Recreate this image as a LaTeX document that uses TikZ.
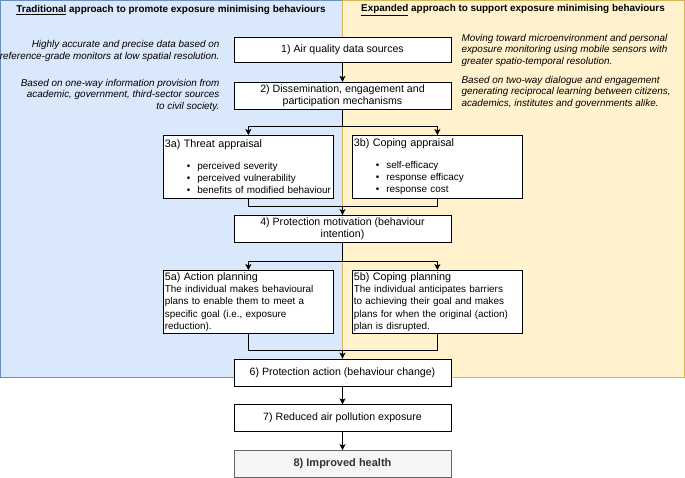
\documentclass[tikz,border=0pt]{standalone}
\usepackage{fontspec}
\setmainfont{Liberation Sans}
\usetikzlibrary{positioning}
\usetikzlibrary{arrows.meta}
\definecolor{tradfill}{HTML}{DAE8FC}
\definecolor{tradline}{HTML}{6C8EBF}
\definecolor{expfill}{HTML}{FFF2CC}
\definecolor{expline}{HTML}{D6B656}
\definecolor{healthfill}{HTML}{F5F5F5}
\definecolor{healthline}{HTML}{666666}
\definecolor{healthtext}{HTML}{333333}
\tikzset{
    flow chart/.style={
            x=1pt,y=-1pt,node distance=18pt,
            font=\fontsize{10.6}{12.5}\selectfont,
            arrow/.style={-{Stealth[length=6pt,width=6pt,inset=1.5pt]},line width=0.75pt},
            link/.style={line width=0.75pt},
            stage/.style={draw,line width=0.75pt,fill=white,minimum width=217pt,
                    minimum height=25pt,align=center,inner sep=2pt},
            appraisal/.style={draw,line width=0.75pt,fill=white,text width=167pt,
                    minimum height=63pt,align=left,inner sep=1.5pt,anchor=north west,
                    font=\fontsize{9.9}{12.3}\selectfont},
            note/.style={font=\fontsize{9.9}{11.5}\selectfont\itshape},
            heading/.style={font=\fontsize{9.9}{12}\selectfont\bfseries}
        }
    }
\newcommand{\itm}[1]{\mbox{\hspace*{22pt}\textbullet\hspace{7pt}#1}}
\newcommand{\boxtitle}[1]{{\fontsize{10.8}{12.5}\selectfont #1}}

\begin{document}
\begin{tikzpicture}[flow chart]
                \useasboundingbox (0,0) rectangle (685,477);
                % the two approaches
                \draw[tradline,fill=tradfill] (0.5,0.5) rectangle (342.5,377);
                \draw[expline,fill=expfill] (342.5,0.5) rectangle (684.5,377);
                \node[heading] (trad) at (171,10) {\underline{Traditional} approach to promote exposure minimising behaviours};
                \node[heading] (expd) at (513,10) {\underline{Expanded} approach to support exposure minimising behaviours};
                \node[note,anchor=east,align=right] (tradA) at (223,51) {Highly accurate and precise data based on\\reference-grade monitors at low spatial resolution.};
                \node[note,anchor=east,align=right] (tradB) at (223,95) {Based on one-way information provision from\\academic, government, third-sector sources\\to civil society.};
                \node[note,anchor=west,align=left] (expdA) at (458,50) {Moving toward microenvironment and personal\\exposure monitoring using mobile sensors with\\greater spatio-temporal resolution.};
                \node[note,anchor=west,align=left] (expdB) at (458,92) {Based on two-way dialogue and engagement\\generating reciprocal learning between citizens,\\academics, institutes and governments alike.};
                % the steps
                \node[stage] (data) at (342.5,50) {1) Air quality data sources};
                \node[stage,minimum height=27pt] (dissem) [below=19pt of data] {2) Dissemination, engagement and\\participation mechanisms};
                \node[appraisal] (threat) at (163,135) {\boxtitle{3a) Threat appraisal}\\[9pt]\itm{perceived severity}\\\itm{perceived vulnerability}\\\itm{benefits of modified behaviour}};
                \node[appraisal] (coping) at (352,135) {\boxtitle{3b) Coping appraisal}\\[9pt]\itm{self-efficacy}\\\itm{response efficacy}\\\itm{response cost}};
                \node[stage,minimum height=27pt] (motiv) at (342.5,229) {4) Protection motivation (behaviour\\intention)};
                \node[appraisal] (action) at (163,270) {\boxtitle{5a) Action planning}\\The individual makes behavioural\\plans to enable them to meet a\\specific goal (i.e., exposure\\reduction).};
                \node[appraisal] (plan) at (352,270) {\boxtitle{5b) Coping planning}\\The individual anticipates barriers\\to achieving their goal and makes\\plans for when the original (action)\\plan is disrupted.};
                \node[stage,minimum height=27pt] (protect) at (342.5,372.5) {6) Protection action (behaviour change)};
                \node[stage,minimum height=27pt] (reduced) [below=18pt of protect] {7) Reduced air pollution exposure};
                \node[stage,minimum height=27pt,fill=healthfill,draw=healthline,text=healthtext,font=\fontsize{11}{12}\selectfont\bfseries] (health) [below=18pt of reduced] {8) Improved health};
                % connectors
                \coordinate (split3) at (342.5,126);
                \coordinate (merge4) at (342.5,206);
                \coordinate (split5) at (342.5,261);
                \coordinate (merge6) at (342.5,350);
                \draw[arrow] (data) -- (dissem);
                \draw[link] (dissem) -- (split3);
                \draw[arrow] (split3) -| (threat);
                \draw[arrow] (split3) -| (coping);
                \draw[link] (threat) |- (merge4);
                \draw[link] (coping) |- (merge4);
                \draw[arrow] (merge4) -- (motiv);
                \draw[link] (motiv) -- (split5);
                \draw[arrow] (split5) -| (action);
                \draw[arrow] (split5) -| (plan);
                \draw[link] (action) |- (merge6);
                \draw[link] (plan) |- (merge6);
                \draw[arrow] (merge6) -- (protect);
                \draw[arrow] (protect) -- (reduced);
                \draw[arrow] (reduced) -- (health);
            \end{tikzpicture}
\end{document}
